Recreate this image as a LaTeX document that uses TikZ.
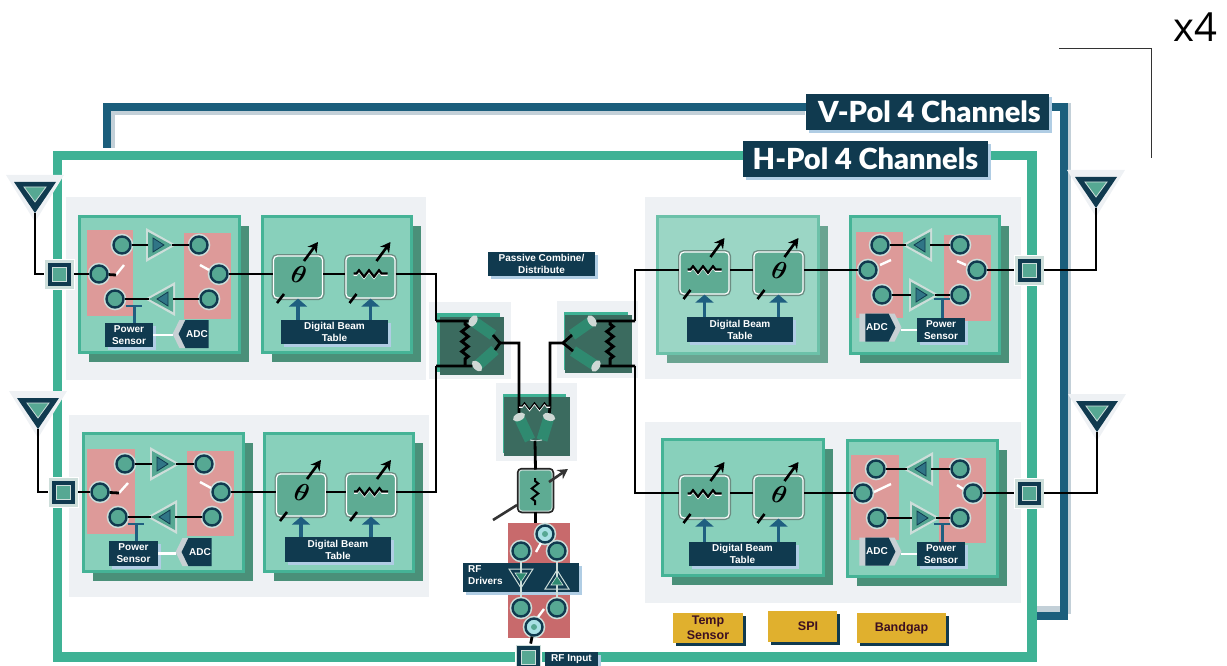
\documentclass[tikz,border=0pt]{standalone}
\usepackage{fontspec}
\setmainfont{Liberation Sans}
\newfontfamily\xfont{Open Sans}
\newfontfamily\bigfont{Lato Black}
\usepackage{amsmath}
\usetikzlibrary{arrows.meta, positioning, shapes.geometric, shapes.symbols, calc,
                 shadows, decorations.pathmorphing}
\definecolor{hgreen}{RGB}{63,178,149}
\definecolor{vblue}{RGB}{27,94,124}
\definecolor{vshade}{RGB}{195,208,216}
\definecolor{navy}{RGB}{16,58,79}
\definecolor{tagshade}{RGB}{176,205,228}
\definecolor{panel}{RGB}{238,241,244}
\definecolor{modfill}{RGB}{136,208,187}
\definecolor{modedge}{RGB}{69,179,150}
\definecolor{modshade}{RGB}{74,144,121}
\definecolor{palefill}{RGB}{155,214,197}
\definecolor{paleedge}{RGB}{108,193,169}
\definecolor{paleshade}{RGB}{106,164,145}
\definecolor{pink}{RGB}{221,154,153}
\definecolor{redcore}{RGB}{200,106,108}
\definecolor{rfteal}{RGB}{86,168,147}
\definecolor{ring}{RGB}{205,222,218}
\definecolor{psfill}{RGB}{94,171,147}
\definecolor{psgrey}{RGB}{108,140,130}
\definecolor{ctrlblue}{RGB}{31,95,128}
\definecolor{splitdark}{RGB}{59,107,95}
\definecolor{cylgreen}{RGB}{47,138,112}
\definecolor{capgrey}{RGB}{207,216,213}
\definecolor{chevgrey}{RGB}{200,208,212}
\definecolor{gold}{RGB}{224,176,46}
\definecolor{maroon}{RGB}{60,15,34}
\definecolor{cyancell}{RGB}{168,224,228}
\newcommand{\boxat}[6]{\node[#1,minimum width={(#4-#2)*1pt},minimum height={(#5-#3)*1pt}] (#6) at ({(#2+#4)/2},{(#3+#5)/2})}

\begin{document}
\begin{tikzpicture}[
    x=1pt,y=-1pt,
    area/.style={rectangle,inner sep=0pt,outer sep=0pt},
    graybg/.style={area,fill=panel},
    modbox/.style={area,fill=modfill,draw=modedge,line width=3pt,
                   general shadow={shadow xshift=10pt,shadow yshift=-10pt,fill=modshade}},
    palebox/.style={area,fill=palefill,draw=paleedge,line width=3pt,
                   general shadow={shadow xshift=10pt,shadow yshift=-10pt,fill=paleshade}},
    pinkbox/.style={area,fill=pink},
    tag/.style={area,fill=navy,text=white,align=center,
                font=\fontsize{10}{12}\selectfont\bfseries,
                general shadow={shadow xshift=3pt,shadow yshift=-3pt,fill=tagshade}},
    bigtag/.style={tag,font=\bigfont\fontsize{29}{30}\selectfont},
    goldbox/.style={area,fill=gold,text=maroon,align=center,
                font=\fontsize{12.5}{15}\selectfont\bfseries,
                general shadow={shadow xshift=3pt,shadow yshift=-3pt,fill=navy}},
    adcl/.style={signal,signal to=west,signal from=nowhere,signal pointer angle=127,
                fill=navy,text=white,inner sep=0pt,outer sep=0pt,minimum width=30pt,minimum height=28pt,
                font=\fontsize{10}{12}\selectfont\bfseries,
                preaction={fill=chevgrey,transform canvas={xshift=-6pt}}},
    adcr/.style={adcl,signal to=east,
                preaction={fill=chevgrey,transform canvas={xshift=6pt}}},
    rfc/.style={circle,draw=navy,line width=2.4pt,fill=rfteal,minimum size=17pt,inner sep=0pt,
                preaction={draw=ring,line width=5.5pt}},
    rfl/.style={rfc,fill=cyancell,path picture={\fill[rfteal] (path picture bounding box.center) circle (3pt);}},
    psbox/.style={rectangle,rounded corners=4pt,fill=psfill,draw=white,line width=1.2pt,
                minimum width=49pt,minimum height=42pt,inner sep=0pt,
                preaction={draw=psgrey,line width=4pt}},
    portbox/.style={rectangle,fill=ring,draw=white,line width=.8pt,minimum size=30pt,inner sep=0pt,
                path picture={
                  \fill[navy] ($(path picture bounding box.center)+(-11.5,-11.5)$) rectangle ++(23,23);
                  \fill[ring] ($(path picture bounding box.center)+(-7.5,-7.5)$) rectangle ++(15,15);
                  \fill[rfteal] ($(path picture bounding box.center)+(-6.5,-6.5)$) rectangle ++(13,13);}},
    rfatbox/.style={rectangle,rounded corners=3pt,fill=psfill,draw=ring,line width=1pt,
                minimum width=33pt,minimum height=41pt,inner sep=0pt,
                preaction={draw=black!85,line width=4.5pt}},
    sig/.style={draw=black,line width=2.8pt},
    wsig/.style={draw=ring,line width=1.6pt},
    blade/.style={draw=white,line width=2.4pt},
    link/.style={draw=white,line width=2.4pt,shorten >=6pt},
    coup/.style={draw=ctrlblue,line width=3pt},
    ctrl/.style={draw=ctrlblue,line width=3.4pt,-{Triangle[length=8pt,width=18pt]}},
    tune/.style={draw=black,line width=2.6pt,-{Stealth[length=10pt,width=11pt]}},
    stub/.style={draw=black,line width=2.6pt},
    cylbody/.style={draw=cylgreen,line width=11pt},
    cylcap/.style={ellipse,fill=capgrey,minimum width=7.5pt,minimum height=13pt,inner sep=0pt},
    zzb/.style={draw=black,line width=2.2pt,decorate,
                decoration={zigzag,segment length=10pt,amplitude=3.2pt,pre length=3pt,post length=3pt}},
    zzw/.style={draw=white,line width=1.6pt,decorate,
                decoration={zigzag,segment length=10pt,amplitude=3.2pt,pre length=3pt,post length=3pt}},
    pics/amp/.style={code={
      \path[fill=ring] (-15,-17) -- (15,0) -- (-15,17) -- cycle;
      \path[fill=rfteal] (-13,-13) -- (11,0) -- (-13,13) -- cycle;
      \path[fill=ctrlblue!70!rfteal,draw=navy,line width=.8pt] (-8,-7) -- (3,0) -- (-8,7) -- cycle;
      \coordinate (-in) at (-13,0);
      \coordinate (-out) at (11,0);}},
    pics/drv/.style={code={
      \path[draw=ring,line width=1pt] (-12,-9) -- (12,-9) -- (0,10) -- cycle;
      \path[fill=cylgreen,draw=ring,line width=.6pt] (-6,-5) -- (6,-5) -- (0,4) -- cycle;}},
    pics/antenna/.style={code={
      \path[fill=panel] (-29,-7) -- (29,-7) -- (0,40) -- cycle;
      \path[fill=navy] (-21,0) -- (21,0) -- (0,31) -- cycle;
      \path[fill=rfteal,draw=ring,line width=.8pt] (-11,5) -- (11,5) -- (0,20) -- cycle;
      \coordinate (-tip) at (0,31);}}
]
  \useasboundingbox (0,0) rectangle (1227,666);
  \clip (0,0) rectangle (1227,666);

  % Outer frames
  \draw[vshade,line width=5pt] (112,148) -- (112,113) -- (805,113);
  \draw[vshade,line width=3pt] (1069.5,103) -- (1069.5,614);
  \draw[vshade,line width=6pt] (1037,609) -- (1060,609);
  \draw[vblue,line width=8pt] (107,148) -- (107,107) -- (1064,107) -- (1064,616) -- (1037,616);
  \draw[hgreen,line width=9.5pt] (57.5,155.5) rectangle (1032,657);
  \boxat{bigtag}{806}{94}{1049}{130}{vtag} {\hspace*{4pt}V-Pol 4 Channels};
  \boxat{bigtag}{743}{141}{988}{177}{htag} {H-Pol 4 Channels};

  % x4 bracket
  \node[font=\xfont\fontsize{40}{40}\selectfont,inner sep=0pt] (xfour) at (1195,27) {x4};
  \coordinate (xa) at (1059,49);
  \coordinate (xb) at (1151,158);
  \draw[black!80,line width=1pt] (xa) -| (xb);

  % Gray panels
  \boxat{graybg}{66}{197}{426}{380}{tlbg} {};
  \boxat{graybg}{69}{415}{429}{597}{blbg} {};
  \boxat{graybg}{645}{197}{1021}{379}{trbg} {};
  \boxat{graybg}{645}{422}{1021}{603}{brbg} {};

  % Modules
  \boxat{modbox}{79}{216}{239}{352}{tlsw} {};
  \boxat{modbox}{262}{216}{411}{352}{tlph} {};
  \boxat{modbox}{83}{433}{243}{571}{blsw} {};
  \boxat{modbox}{264}{433}{413}{571}{blph} {};
  \boxat{palebox}{657}{216}{818}{353}{trph} {};
  \boxat{modbox}{850}{216}{999}{353}{trsw} {};
  \boxat{modbox}{662}{439}{823}{575}{brph} {};
  \boxat{modbox}{847}{440}{997}{576}{brsw} {};

  % Switch panels
  \boxat{pinkbox}{87}{230}{133}{316}{tlpl} {};
  \boxat{pinkbox}{184}{233}{231}{319}{tlpr} {};
  \boxat{pinkbox}{87}{449}{135}{534}{blpl} {};
  \boxat{pinkbox}{187}{451}{234}{536}{blpr} {};
  \boxat{pinkbox}{856}{232}{903}{318}{trpl} {};
  \boxat{pinkbox}{944}{235}{991}{321}{trpr} {};
  \boxat{pinkbox}{851}{455}{899}{540}{brpl} {};
  \boxat{pinkbox}{939}{458}{986}{543}{brpr} {};

  % Tags in the modules
  \boxat{tag}{105}{323}{153}{347}{tlpow} {Power\\Sensor};
  \boxat{tag}{109}{541}{158}{566}{blpow} {Power\\Sensor};
  \boxat{tag}{917}{318}{965}{342}{trpow} {Power\\Sensor};
  \boxat{tag}{917}{542}{965}{566}{brpow} {Power\\Sensor};
  \node[adcl] (tladc) at (197,334) {ADC};
  \node[adcl] (bladc) at (200,552) {ADC};
  \node[adcr] (tradc) at (877,327.5) {ADC};
  \node[adcr] (bradc) at (877,551.5) {ADC};
  \boxat{tag}{281}{320}{388}{344}{tltab} {Digital Beam\\Table};
  \boxat{tag}{285}{537}{391}{562}{bltab} {Digital Beam\\Table};
  \boxat{tag}{687}{317}{793}{342}{trtab} {Digital Beam\\Table};
  \boxat{tag}{689}{542}{796}{566}{brtab} {Digital Beam\\Table};

  % Circles
  \foreach \n/\x/\y in {tla/122/245,tlb/99/274,tlc/115/299,tld/199/245,tle/219/274,tlf/209/299,
                        bla/125/464,blb/100/492,blc/118/517,bld/204/464,ble/221/492,blf/212/517,
                        tra/880/245,trb/868/270,trc/882/295,trd/960/245,tre/977/270,trf/960/295,
                        bra/876/469,brb/863/493,brc/877/518,brd/960/469,bre/973/493,brf/960/518}
    \node[rfc] (\n) at (\x,\y) {};

  % Amplifiers
  \pic (tlup) at (161,245) {amp};
  \pic[rotate=180] (tllo) at (160,299) {amp};
  \pic (blup) at (165,464) {amp};
  \pic[rotate=180] (bllo) at (162,517) {amp};
  \pic[rotate=180] (trup) at (917,245) {amp};
  \pic (trlo) at (924,295) {amp};
  \pic[rotate=180] (brup) at (918,469) {amp};
  \pic (brlo) at (925,518) {amp};

  \foreach \m in {tl,bl} {
    \draw[sig] (\m a) -- (\m up-in);
    \draw[sig] (\m up-out) -- (\m d);
    \draw[sig] (\m f) -- (\m lo-in);
    \draw[sig] (\m lo-out) -- (\m c);
  }
  \foreach \m in {tr,br} {
    \draw[sig] (\m d) -- (\m up-in);
    \draw[sig] (\m up-out) -- (\m a);
    \draw[sig] (\m c) -- (\m lo-in);
    \draw[sig] (\m lo-out) -- (\m f);
  }

  % Switch blades
  \foreach \n/\ax/\ay/\bx/\by in {tll/116/275/124/265,tlr/200/265/209/270,
                                  bll/119/493/128/483,blr/200/482/211/488,
                                  trl/880/265/891/260,trr/957/261/966/265,
                                  brl/874/492/891/484,brr/957/485/963/489} {
    \coordinate (\n a) at (\ax,\ay);
    \coordinate (\n b) at (\bx,\by);
    \draw[blade] (\n a) -- (\n b);
  }
  \draw[sig] (tlb) -- (tlla);
  \draw[sig] (blb) -- (blla);

  % Power couplers
  \foreach \m/\x/\y/\p/\a in {tl/134/306/east/west,bl/136/524/east/west,
                              tr/942/299/west/east,br/942/524/west/east} {
    \coordinate (\m bar) at (\x,\y);
    \draw[coup] (\m bar) -- (\m bar |- \m pow.north);
    \draw[coup,line width=2.4pt] ($(\m bar)+(-8,0)$) -- ($(\m bar)+(8,0)$);
    \draw[link] (\m pow.\p) -- (\m pow.\p -| \m adc.\a);
  }

  % Phase shifters and attenuators
  \node[psbox] (tlps) at (298,277) {};
  \node[psbox] (tlat) at (370.5,277) {};
  \node[psbox] (blps) at (301,495) {};
  \node[psbox] (blat) at (371,495) {};
  \node[psbox] (trat) at (704.5,273) {};
  \node[psbox] (trps) at (778.5,273) {};
  \node[psbox] (brat) at (704.5,497) {};
  \node[psbox] (brps) at (778.5,497) {};
  \foreach \n/\t in {tlps/tltab,tlat/tltab,blps/bltab,blat/bltab,trat/trtab,trps/trtab,brat/brtab,brps/brtab} {
    \draw[tune] ($(\n.center)+(6,-16)$) -- ($(\n.center)+(20,-35)$);
    \draw[stub] ($(\n.center)+(-21,26)$) -- ($(\n.center)+(-14,17)$);
    \draw[ctrl] (\n.south |- \t.north) -- (\n.south);
  }
  \foreach \n in {tlps,blps,trps,brps}
    \node[font=\fontsize{34}{34}\selectfont,rotate=-12,inner sep=0pt] (\n t) at ($(\n.center)+(1,-2)$) {$\boldsymbol{\theta}$};
  \foreach \n in {tlat,blat,trat,brat} {
    \draw[zzw] ($(\n.center)+(-17,-2)$) -- ($(\n.center)+(17,-2)$);
    \draw[zzb] ($(\n.center)+(-17,-3.5)$) -- ($(\n.center)+(17,-3.5)$);
  }

  % Splitters
  \boxat{graybg}{429}{302}{511}{379}{s1bg} {};
  \boxat{graybg}{557}{301}{638}{378}{s2bg} {};
  \boxat{graybg}{496}{383}{577}{461}{s3bg} {};
  \boxat{area,fill=hgreen}{437}{313}{500}{372}{s1g} {};
  \boxat{area,fill=splitdark}{440}{317}{504}{375}{s1d} {};
  \boxat{area,fill=hgreen}{564}{312}{628}{370}{s2g} {};
  \boxat{area,fill=splitdark}{565}{315}{632}{373}{s2d} {};
  \boxat{area,fill=hgreen}{503}{394}{566}{453}{s3g} {};
  \boxat{area,fill=splitdark}{504}{397}{570}{456}{s3d} {};
  \foreach \n/\cx/\cy/\ex/\ey/\r in {s1u/473/321/493/335/-33,s1l/477/366/495/350/43,
                                     s2u/592/321/572/335/35,s2l/596/366/573/351/-33,
                                     s3u/519/417/530/440/-64,s3v/549/417/542/440/73} {
    \coordinate (\n e) at (\ex,\ey);
    \draw[cylbody] (\cx,\cy) -- (\n e);
    \node[cylcap,rotate=\r] (\n) at (\cx,\cy) {};
  }

  % Combine lines
  \coordinate (s1t) at (436,321);
  \coordinate (s1b) at (436,366);
  \coordinate (s1c) at (500,343);
  \coordinate (s2t) at (635,321);
  \coordinate (s2b) at (635,366);
  \coordinate (s2c) at (563,343);
  \coordinate (s3l) at (519,407);
  \coordinate (s3r) at (550,407);
  \coordinate (s3c) at (535,441);
  \draw[sig] (s1t) -- (s1u);
  \draw[sig] (s1b) -- (s1l);
  \draw[sig] (s2t) -- (s2u);
  \draw[sig] (s2b) -- (s2l);
  \draw[sig] (s1ue) -- (s1c) -- (s1le);
  \draw[sig] (s2ue) -- (s2c) -- (s2le);
  \draw[sig] (s1c) -| (s3l) -- (s3u);
  \draw[sig] (s2c) -| (s3r) -- (s3v);
  \draw[zzb,line width=3pt] (465,321) -- (465,366);
  \draw[zzb,line width=3pt] (610,321) -- (610,366);
  \draw[zzw] (s3l) -- (s3r);
  \draw[zzb,line width=1.2pt] ($(s3l)+(0,-1)$) -- ($(s3r)+(0,-1)$);
  \foreach \n in {s3ue,s3ve} \draw[draw=ring,line width=1pt] (\n) -- (s3c);

  % RF core
  \boxat{area,fill=redcore}{508}{523}{570}{638}{rfred} {};
  \boxat{tag,text width=100pt}{463}{563}{579}{592}{rfband} {};
  \node[font=\fontsize{10}{12}\selectfont\bfseries,text=white,align=left,anchor=west,inner sep=0pt] (rfdrv) at (468,575) {RF\\Drivers};
  \node[rfatbox] (rfat) at (535.5,490.5) {};
  \draw[zzb,line width=2pt] (535,478) -- (535,505);
  \draw[sig] (s3c) -- (rfat.north);
  \draw[sig] (rfat.south) -- (rfat.south |- rfred.north);
  \coordinate (rfta) at (493,520);
  \coordinate (rftb) at (517,505);
  \coordinate (rftc) at (549,482);
  \coordinate (rftd) at (568,469);
  \draw[black!80,line width=2.6pt] (rfta) -- (rftb);
  \draw[tune,black!80] (rftc) -- (rftd);
  \foreach \n/\x/\y in {cul/521/551,cur/557/551,cll/521/608,clr/557/608}
    \node[rfc] (\n) at (\x,\y) {};
  \node[rfl] (ctop) at (545,534) {};
  \node[rfl] (cbot) at (534,627) {};
  \draw[wsig] (cul) -- (cll);
  \draw[wsig] (cur) -- (clr);
  \pic (drva) at (521,578) {drv};
  \pic[yscale=-1] (drvb) at (557,580) {drv};
  \foreach \n/\ax/\ay/\bx/\by in {ctb/536/552/541/543,cbb/538/617/544/609} {
    \coordinate (\n a) at (\ax,\ay);
    \coordinate (\n b) at (\bx,\by);
    \draw[blade] (\n a) -- (\n b);
  }
  \node[portbox,minimum size=26pt] (rfport) at (528,657) {};
  \draw[sig] (cbot) -- (rfport);
  \boxat{tag}{545}{652}{598}{666}{rfin} {RF Input};

  % Ports and antennas
  \node[portbox] (tlport) at (59,274) {};
  \node[portbox] (blport) at (63,492) {};
  \node[portbox] (trport) at (1029,270) {};
  \node[portbox] (brport) at (1029,493) {};
  \pic (tlant) at (35,182) {antenna};
  \pic (blant) at (38,398) {antenna};
  \pic (trant) at (1096,177) {antenna};
  \pic (brant) at (1097,401) {antenna};
  \foreach \m in {tl,bl,tr,br} {
    \draw[sig] (\m ant-tip) |- (\m port);
  }
  \draw[sig] (tlport) -- (tlb);
  \draw[sig] (blport) -- (blb);
  \draw[sig] (trport) -- (tre);
  \draw[sig] (brport) -- (bre);

  % Signal path through the modules
  \draw[sig] (tle) -- (tle -| tlps.west);
  \draw[sig] (tlps.east |- tle) -- (tlat.west |- tle);
  \draw[sig] (tlat.east |- tle) -| (s1t);
  \draw[sig] (ble) -- (ble -| blps.west);
  \draw[sig] (blps.east |- ble) -- (blat.west |- ble);
  \draw[sig] (blat.east |- ble) -| (s1b);
  \draw[sig] (trb) -- (trb -| trps.east);
  \draw[sig] (trps.west |- trb) -- (trat.east |- trb);
  \draw[sig] (s2t) |- (trat.west |- trb);
  \draw[sig] (brb) -- (brb -| brps.east);
  \draw[sig] (brps.west |- brb) -- (brat.east |- brb);
  \draw[sig] (s2b) |- (brat.west |- brb);

  % Free labels
  \boxat{tag}{488}{252}{595}{276}{pcd} {Passive Combine/\\Distribute};
  \boxat{goldbox}{673}{613}{743}{643}{temp} {Temp\\Sensor};
  \boxat{goldbox}{768}{611}{837}{642}{spi} {\hspace*{11pt}SPI};
  \boxat{goldbox}{857}{613}{946}{643}{bandgap} {Bandgap};
\end{tikzpicture}
\end{document}
